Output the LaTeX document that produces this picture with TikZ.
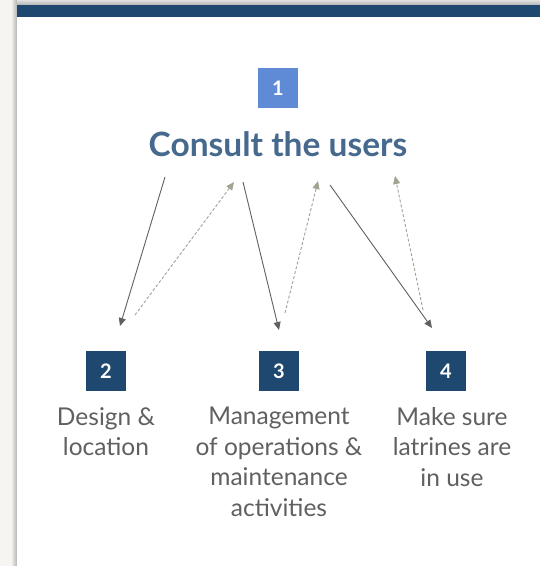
\documentclass[tikz,border=0pt]{standalone}
\usepackage{fontspec}
\setmainfont{Lato}
\usepackage{xcolor}
\usetikzlibrary{positioning,calc,arrows.meta}

\definecolor{barblue}{HTML}{1E4870}
\definecolor{lightblue}{HTML}{5F8AD6}
\definecolor{titleblue}{HTML}{46698E}
\definecolor{textgray}{HTML}{606060}
\definecolor{dashgray}{HTML}{A3A393}
\definecolor{pagebg}{HTML}{F6F5F2}

\begin{document}
\begin{tikzpicture}[x=1pt, y=-1pt,
    numbox/.style={rectangle, minimum width=40pt, minimum height=40pt, inner sep=0pt, fill=barblue, text=white, font=\fontsize{20}{20}\selectfont\bfseries},
    steptext/.style={align=center, text=textgray, font=\fontsize{24.5}{30.5}\selectfont, inner sep=0pt},
    fwd/.style={draw=textgray, line width=0.9pt, -{Triangle[length=8pt, width=7pt]}},
    back/.style={draw=dashgray, line width=0.9pt, dash pattern=on 3pt off 2pt, -{Triangle[length=8pt, width=7pt]}}
]
    \useasboundingbox (0,0) rectangle (540,566);
    \fill [pagebg] (0,0) rectangle (540,566);

    % slide with shadow
    \shade [left color=pagebg, right color=black!30] (11,0) rectangle (17,566);
    \shade [top color=black!12, bottom color=black!30] (17,0) rectangle (540,5);
    \fill [white] (17,5) rectangle (540,566);
    \fill [barblue] (17,5) rectangle (540,17);

    % top step
    \node [numbox, fill=lightblue] (s1) at (278,88) {1};
    \node [font=\fontsize{33.5}{36}\selectfont\bfseries, text=titleblue] (title) at (278,144) {Consult the users};

    % three steps
    \node [numbox] (s2) at (106,371) {2};
    \node [numbox] (s3) at (279,371) {3};
    \node [numbox] (s4) at (446,371) {4};

    \node [steptext, anchor=north] (t2) at (106,407) {Design \&\\location};
    \node [steptext, anchor=north] (t3) at (279,407) {Management\\of operations \&\\maintenance\\activities};
    \node [steptext, anchor=north] (t4) at (452,407) {Make sure\\latrines are\\in use};

    % arrow ends
    \coordinate (a1) at (165,177);
    \coordinate (b1) at (120,326);
    \coordinate (c1) at (135,315);
    \coordinate (d1) at (234,182);
    \coordinate (a2) at (243,182);
    \coordinate (b2) at (279,330);
    \coordinate (c2) at (285,313);
    \coordinate (d2) at (318,181);
    \coordinate (a3) at (330,185);
    \coordinate (b3) at (432,328);
    \coordinate (c3) at (423,310);
    \coordinate (d3) at (395,176);

    \draw [fwd] (a1) -- (b1);
    \draw [back] (c1) -- (d1);
    \draw [fwd] (a2) -- (b2);
    \draw [back] (c2) -- (d2);
    \draw [fwd] (a3) -- (b3);
    \draw [back] (c3) -- (d3);
\end{tikzpicture}
\end{document}
